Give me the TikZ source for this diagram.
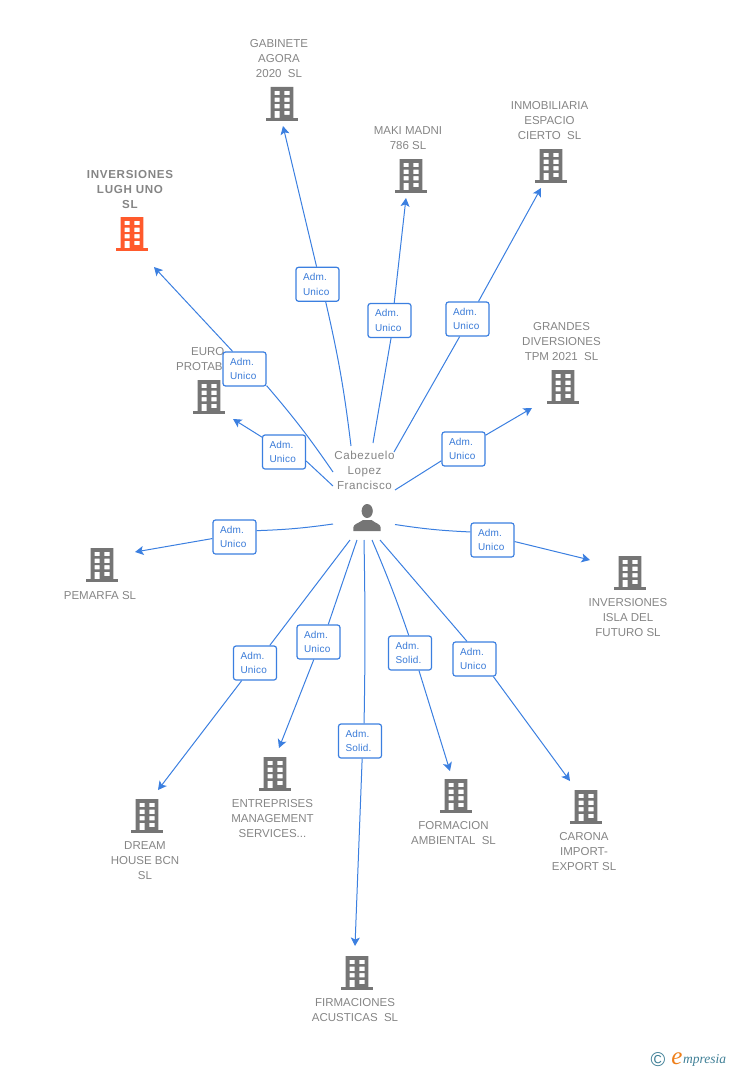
\documentclass[tikz,border=0pt]{standalone}
\usepackage{fontspec}
\setmainfont{Liberation Sans}
\newfontfamily\logoserif{Liberation Serif}
\usetikzlibrary{arrows.meta}
\definecolor{linkblue}{HTML}{3B7FE0}
\definecolor{boxtext}{HTML}{3A7BD8}
\definecolor{labgray}{HTML}{858585}
\definecolor{icongray}{HTML}{757575}
\definecolor{iconred}{HTML}{FF5A2C}
\definecolor{logoblue}{HTML}{3F7F96}
\definecolor{logoorange}{HTML}{EE7F1A}
\tikzset{
  x=1pt,y=-1pt,
  conn/.style={draw=linkblue,line width=1pt},
  connarrow/.style={conn,-{Stealth[length=8.5pt,width=9pt,inset=2pt]}},
  relbox/.style={draw=linkblue,fill=white,line width=1.2pt,rounded corners=2.5pt,minimum width=43pt,minimum height=34pt,inner xsep=0pt,inner ysep=0pt,text width=29pt,text=boxtext,font=\fontsize{10}{14.7}\selectfont\addfontfeature{LetterSpace=2},align=left},
  complabel/.style={text=labgray,font=\fontsize{11.5}{15}\selectfont,align=center,inner sep=0pt},
  complabelb/.style={text=labgray,font=\fontsize{11.6}{15}\selectfont\bfseries\addfontfeature{LetterSpace=6},align=center,inner sep=0pt},
  perslabel/.style={text=labgray,font=\fontsize{11.6}{15}\selectfont\addfontfeature{LetterSpace=5},align=center,inner sep=0pt},
  building/.pic={
    \fill[pic actions] (-15.7,-3) rectangle (15.7,0);
    \fill[pic actions,even odd rule] (-11.3,-34) rectangle (11.3,-3)
      (-7.4,-30.1) rectangle (-2.4,-25.9) (2.4,-30.1) rectangle (7.5,-25.9)
      (-7.4,-23.4) rectangle (-2.4,-19) (2.4,-23.4) rectangle (7.5,-19)
      (-7.4,-17) rectangle (-2.4,-12.6) (2.4,-17) rectangle (7.5,-12.6)
      (-7.4,-10.1) rectangle (-2.4,-3) (2.4,-10.1) rectangle (7.5,-6);
  }
}
\begin{document}
\begin{tikzpicture}
\useasboundingbox (0,0) rectangle (728,1070);
% buildings
\pic[fill=icongray] at (282,121) {building};
\pic[fill=icongray] at (411,193) {building};
\pic[fill=icongray] at (551,183) {building};
\pic[fill=icongray] at (563,404) {building};
\pic[fill=iconred] at (132,251) {building};
\pic[fill=icongray] at (209,414) {building};
\pic[fill=icongray] at (102,582) {building};
\pic[fill=icongray] at (630,590) {building};
\pic[fill=icongray] at (586,824) {building};
\pic[fill=icongray] at (456,813) {building};
\pic[fill=icongray] at (357,990) {building};
\pic[fill=icongray] at (275,791) {building};
\pic[fill=icongray] at (147,833) {building};
% labels
\node[complabel] (lgab) at (279,58.7) {GABINETE\\AGORA\\2020~~SL};
\node[complabel] (lmak) at (408,138.2) {MAKI MADNI\\786 SL};
\node[complabel] (linm) at (549.5,120.7) {INMOBILIARIA\\ESPACIO\\CIERTO~~SL};
\node[complabel] (lgra) at (561.5,341.7) {GRANDES\\DIVERSIONES\\TPM 2021~~SL};
\node[complabelb] (llug) at (130,189.2) {INVERSIONES\\LUGH UNO\\SL};
\node[complabel,anchor=west] (leu1) at (191,352) {EURO};
\node[complabel,anchor=west] (leu2) at (176,367) {PROTAB};
\node[complabel] (lpem) at (100,595.7) {PEMARFA SL};
\node[complabel] (lisl) at (628,617.7) {INVERSIONES\\ISLA DEL\\FUTURO SL};
\node[complabel] (lcar) at (584,851.7) {CARONA\\IMPORT-\\EXPORT SL};
\node[complabel] (lfor) at (453.5,833.2) {FORMACION\\AMBIENTAL~~SL};
\node[complabel] (lfir) at (355,1010.2) {FIRMACIONES\\ACUSTICAS~~SL};
\node[complabel] (lent) at (272.5,818.7) {ENTREPRISES\\MANAGEMENT\\SERVICES...};
\node[complabel] (ldre) at (145,860.7) {DREAM\\HOUSE BCN\\SL};
% person
\node[perslabel] (pers) at (364.5,470) {Cabezuelo\\Lopez\\Francisco};
\fill[icongray] (367.2,511) ellipse (5.6 and 7);
\fill[icongray] (353.3,531) -- (353.3,527.5) .. controls (353.5,524) and (358,523.5) .. (363,520) -- (371.5,520) .. controls (376,523.5) and (380.5,524) .. (380.7,527.5) -- (380.7,531) -- cycle;
% relation boxes
\node[relbox] (bgab) at (317.5,284.3) {Adm.\\Unico};
\node[relbox] (bmak) at (389.5,320.5) {Adm.\\Unico};
\node[relbox] (binm) at (467.5,319) {Adm.\\Unico};
\node[relbox] (bgra) at (463.5,449) {Adm.\\Unico};
\node[relbox] (bisl) at (492.5,540) {Adm.\\Unico};
\node[relbox] (bcar) at (474.5,659) {Adm.\\Unico};
\node[relbox] (bfor) at (410,653) {Adm.\\Solid.};
\node[relbox] (bfir) at (360,741) {Adm.\\Solid.};
\node[relbox] (bent) at (318.5,642) {Adm.\\Unico};
\node[relbox] (bdre) at (255,663) {Adm.\\Unico};
\node[relbox] (bpem) at (234.5,537) {Adm.\\Unico};
\node[relbox] (beur) at (284,452) {Adm.\\Unico};
\node[relbox] (blug) at (244.5,369) {Adm.\\Unico};
% connector ends
\coordinate (sgab) at (351,446); \coordinate (tgab) at (283,126);
\coordinate (smak) at (373,443); \coordinate (tmak) at (406,198);
\coordinate (sinm) at (394,452); \coordinate (tinm) at (541,188);
\coordinate (sgra) at (395,490); \coordinate (tgra) at (532,408);
\coordinate (sisl) at (395,524.5); \coordinate (tisl) at (590,560);
\coordinate (scar) at (380,540); \coordinate (tcar) at (570,781);
\coordinate (sfor) at (372,540); \coordinate (tfor) at (450,771);
\coordinate (sfir) at (364,540); \coordinate (tfir) at (355,946);
\coordinate (sent) at (357,540); \coordinate (tent) at (279,748);
\coordinate (sdre) at (350,540); \coordinate (tdre) at (158,790);
\coordinate (spem) at (333,524); \coordinate (tpem) at (135,552);
\coordinate (seur) at (333,486); \coordinate (teur) at (233,419);
\coordinate (slug) at (333,472); \coordinate (tlug) at (154,267);
% connectors
\draw[conn] (sgab) to[bend right=3] (bgab.-65);  \draw[connarrow] (bgab.93) -- (tgab);
\draw[conn] (smak) -- (bmak.-85);                \draw[connarrow] (bmak.75) -- (tmak);
\draw[conn] (sinm) -- (binm.246);                \draw[connarrow] (binm.58) -- (tinm);
\draw[conn] (sgra) -- (bgra.208.6);              \draw[connarrow] (bgra.32.7) -- (tgra);
\draw[conn] (sisl) to[bend right=3] (bisl.160.5); \draw[connarrow] (bisl.-4.5) -- (tisl);
\draw[conn] (scar) -- (bcar.113);                \draw[connarrow] (bcar.-43.7) -- (tcar);
\draw[conn] (sfor) to[bend left=2] (bfor.94);    \draw[connarrow] (bfor.-63) -- (tfor);
\draw[conn] (sfir) to[bend left=1] (bfir.77);    \draw[connarrow] (bfir.-83) -- (tfir);
\draw[conn] (sent) -- (bent.61.6);               \draw[connarrow] (bent.255) -- (tent);
\draw[conn] (sdre) -- (bdre.50);                 \draw[connarrow] (bdre.233) -- (tdre);
\draw[conn] (spem) to[bend left=3] (bpem.16);    \draw[connarrow] (bpem.184.5) -- (tpem);
\draw[conn] (seur) -- (beur.-22);                \draw[connarrow] (beur.146) -- (teur);
\draw[conn] (slug) to[bend right=3] (blug.-37.5); \draw[connarrow] (blug.124) -- (tlug);
% logo
\node[text=logoblue,inner sep=0pt,font=\fontsize{20}{20}\selectfont] (lc) at (658,1059.5) {©};
\node[text=logoorange,inner sep=0pt,font=\logoserif\fontsize{25}{25}\selectfont\itshape] (le) at (677,1059) {e};
\node[text=logoblue,inner sep=0pt,anchor=west,font=\logoserif\fontsize{13.5}{14}\selectfont\itshape] (lm) at (683,1060) {mpresia};
\end{tikzpicture}
\end{document}
